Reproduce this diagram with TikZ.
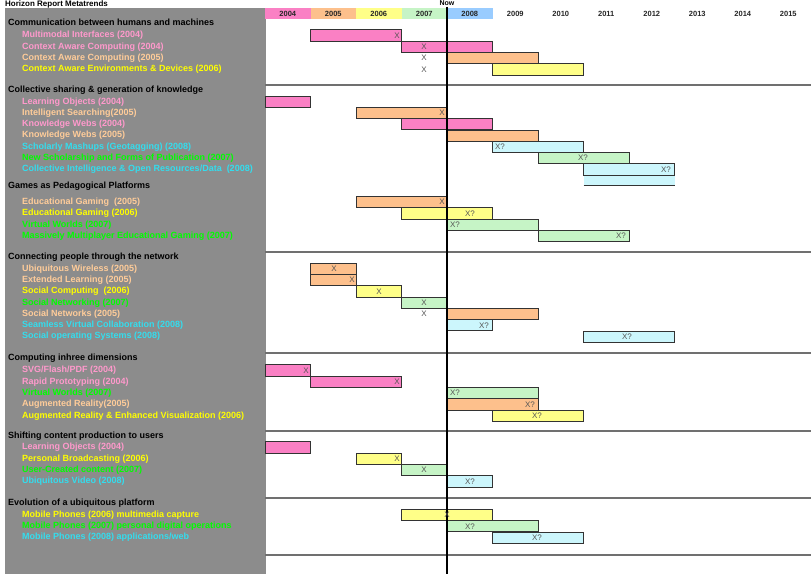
\documentclass[tikz,border=0pt]{standalone}
\usepackage{fontspec}
\setmainfont{Liberation Sans}
\definecolor{panel}{HTML}{8C8C8C}
\definecolor{tpink}{HTML}{FF99CC}
\definecolor{tpeach}{HTML}{FFCC99}
\definecolor{tyellow}{HTML}{FFFF00}
\definecolor{tgreen}{HTML}{00FF00}
\definecolor{tcyan}{HTML}{33DDEE}
\definecolor{bpink}{HTML}{FA80C4}
\definecolor{borange}{HTML}{FDC08C}
\definecolor{byellow}{HTML}{FFFF88}
\definecolor{bgreen}{HTML}{C6F4C6}
\definecolor{bcyan}{HTML}{CCF6FC}
\definecolor{bblue}{HTML}{99CCFF}
\definecolor{sepline}{HTML}{707070}
\definecolor{xcol}{HTML}{555555}
\newcommand\trow[7]{%
  \node[itemtext, text=#3] (#1) at (22,#2) {#4};
  \filldraw[barbox, fill=#7] ({265+45.5*#5},{#2-5.6}) rectangle ({265+45.5*(#5+#6)},{#2+5.6});
}
\begin{document}
\begin{tikzpicture}[x=1pt,y=-1pt,
  itemtext/.style={anchor=west, inner sep=0pt, font=\bfseries\fontsize{9}{10}\selectfont, text height=6.5pt, text depth=1.9pt},
  headtext/.style={itemtext, text=black},
  barbox/.style={draw=black!80, line width=0.9pt},
  xm/.style={inner sep=0pt, text=xcol, font=\fontsize{8}{9}\selectfont},
  sep/.style={draw=sepline, line width=1.2pt},
  yearlab/.style={inner sep=0pt, font=\bfseries\fontsize{7.5}{9}\selectfont, text=black!85},
  yearbox/.style={minimum width=45.5pt, minimum height=10.5pt, inner sep=0pt}]
\useasboundingbox (0,0) rectangle (811,574);
\fill[white] (0,0) rectangle (811,574);
% left panel
\fill[panel] (5,8) rectangle (266,574);
\node[headtext, anchor=west, font=\bfseries\fontsize{8}{9}\selectfont, text height=5.8pt, text depth=0pt] (title) at (5,3.3) {Horizon Report Metatrends};
% header years
\foreach \yr/\c [count=\i from 0] in {2004/bpink,2005/borange,2006/byellow,2007/bgreen,2008/bblue}{
  \node[yearbox, fill=\c] (yb\yr) at ({265+45.5*\i+22.75},13.7) {};
}
\foreach \yr [count=\i from 0] in {2004,2005,2006,2007,2008,2009,2010,2011,2012,2013,2014,2015}{
  \node[yearlab] (y\yr) at ({265+45.5*\i+22.75},13.7) {\yr};
}
% separators
\foreach \s/\yy in {a/85,b/252,c/353,d/431,e/498,f/555}{
  \draw[sep] (265,\yy) -- (811,\yy);
}
% Section 1
\node[headtext] (h1) at (8,23) {Communication between humans and machines};
\trow{r11}{35.5}{tpink}{Multimodal Interfaces (2004)}{1}{2}{bpink}
\trow{r12}{46.8}{tpink}{Context Aware Computing (2004)}{3}{2}{bpink}
\trow{r13}{58.1}{tpeach}{Context Aware Computing (2005)}{4}{2}{borange}
\trow{r14}{69.4}{tyellow}{Context Aware Environments \& Devices (2006)}{5}{2}{byellow}
% Section 2
\node[headtext] (h2) at (8,90) {Collective sharing \& generation of knowledge};
\trow{r21}{101.7}{tpink}{Learning Objects (2004)}{0}{1}{bpink}
\trow{r22}{113}{tpeach}{Intelligent Searching(2005)}{2}{2}{borange}
\trow{r23}{124.3}{tpink}{Knowledge Webs (2004)}{3}{2}{bpink}
\trow{r24}{135.6}{tpeach}{Knowledge Webs (2005)}{4}{2}{borange}
\trow{r25}{146.9}{tcyan}{Scholarly Mashups (Geotagging) (2008)}{5}{2}{bcyan}
\trow{r26}{158.2}{tgreen}{New Scholarship and Forms of Publication (2007)}{6}{2}{bgreen}
\trow{r27}{169.5}{tcyan}{Collective Intelligence \& Open Resources/Data \ (2008)}{7}{2}{bcyan}
\fill[bcyan] (583.5,176.4) rectangle (674.5,185.6);
\draw[barbox] (583.5,185.6) -- (674.5,185.6);
% Section 3
\node[headtext] (h3) at (8,186) {Games as Pedagogical Platforms};
\trow{r31}{202}{tpeach}{Educational Gaming \ (2005)}{2}{2}{borange}
\trow{r32}{213.4}{tyellow}{Educational Gaming (2006)}{3}{2}{byellow}
\trow{r33}{224.8}{tgreen}{Virtual Worlds (2007)}{4}{2}{bgreen}
\trow{r34}{236.2}{tgreen}{Massively Multiplayer Educational Gaming (2007)}{6}{2}{bgreen}
% Section 4
\node[headtext] (h4) at (8,257) {Connecting people through the network};
\trow{r41}{268.8}{tpeach}{Ubiquitous Wireless (2005)}{1}{1}{borange}
\trow{r42}{280.1}{tpeach}{Extended Learning (2005)}{1}{1}{borange}
\trow{r43}{291.4}{tyellow}{Social Computing \ (2006)}{2}{1}{byellow}
\trow{r44}{302.7}{tgreen}{Social Networking (2007)}{3}{1}{bgreen}
\trow{r45}{314}{tpeach}{Social Networks (2005)}{4}{2}{borange}
\trow{r46}{325.3}{tcyan}{Seamless Virtual Collaboration (2008)}{4}{1}{bcyan}
\trow{r47}{336.6}{tcyan}{Social operating Systems (2008)}{7}{2}{bcyan}
% Section 5
\node[headtext] (h5) at (8,358) {Computing inhree dimensions};
\trow{r51}{370.5}{tpink}{SVG/Flash/PDF (2004)}{0}{1}{bpink}
\trow{r52}{381.8}{tpink}{Rapid Prototyping (2004)}{1}{2}{bpink}
\trow{r53}{393.1}{tgreen}{Virtual Worlds (2007)}{4}{2}{bgreen}
\trow{r54}{404.4}{tpeach}{Augmented Reality(2005)}{4}{2}{borange}
\trow{r55}{415.7}{tyellow}{Augmented Reality \& Enhanced Visualization (2006)}{5}{2}{byellow}
% Section 6
\node[headtext] (h6) at (8,436) {Shifting content production to users};
\trow{r61}{447.5}{tpink}{Learning Objects (2004)}{0}{1}{bpink}
\trow{r62}{458.8}{tyellow}{Personal Broadcasting (2006)}{2}{1}{byellow}
\trow{r63}{470.1}{tgreen}{User-Created content (2007)}{3}{1}{bgreen}
\trow{r64}{481.4}{tcyan}{Ubiquitous Video (2008)}{4}{1}{bcyan}
% Section 7
\node[headtext] (h7) at (8,503) {Evolution of a ubiquitous platform};
\trow{r71}{515}{tyellow}{Mobile Phones (2006) multimedia capture}{3}{2}{byellow}
\trow{r72}{526.3}{tgreen}{Mobile Phones (2007) personal digital operations}{4}{2}{bgreen}
\trow{r73}{537.6}{tcyan}{Mobile Phones (2008) applications/web}{5}{2}{bcyan}
% Now line
\node[inner sep=0pt, font=\bfseries\fontsize{7}{8}\selectfont, text height=5pt, text depth=0pt] (now) at (447,3) {Now};
\coordinate (nowtop) at (447,6.5);
\coordinate (nowbot) at (447,574);
\draw[black, line width=1.5pt] (nowtop) -- (nowbot);
% X marks
\foreach \xx/\yy/\t in {
  397/35.5/X, 424/46.8/X, 424/58.1/X, 424/69.4/X,
  442/113/X, 500/146.9/X?, 583/158.2/X?, 666/169.5/X?,
  442/202/X, 470/213.4/X?, 455/224.8/X?, 621/236.2/X?,
  334/268.8/X, 352/280.1/X, 379/291.4/X, 424/302.7/X, 424/314/X, 484/325.3/X?, 627/336.6/X?,
  306/370.5/X, 397/381.8/X, 455/393.1/X?, 530/404.4/X?, 537/415.7/X?,
  397/458.8/X, 424/470.1/X, 470/481.4/X?,
  447/515/X, 470/526.3/X?, 537/537.6/X?}{
  \node[xm] at (\xx,\yy) {\t};
}
\end{tikzpicture}
\end{document}
